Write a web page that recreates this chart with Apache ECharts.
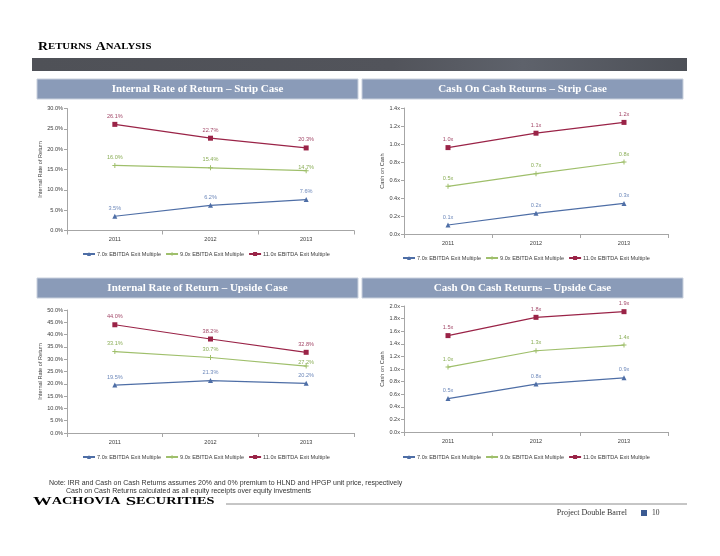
<!DOCTYPE html>
<html><head><meta charset="utf-8">
<script src="https://cdn.jsdelivr.net/npm/echarts@6/dist/echarts.min.js"></script>
<style>html,body{margin:0;padding:0;background:#fff}#c{width:720px;height:556px}</style>
</head><body><div id="c"></div><script>
// ---- data ----
const years = ['2011', '2012', '2013'];
const seriesNames = ['7.0x EBITDA Exit Multiple', '9.0x EBITDA Exit Multiple', '11.0x EBITDA Exit Multiple'];
const irrStrip7 = [3.5, 6.2, 7.6];
const irrStrip9 = [16.0, 15.4, 14.7];
const irrStrip11 = [26.1, 22.7, 20.3];
const cocStrip7 = [0.10, 0.23, 0.34];
const cocStrip9 = [0.53, 0.67, 0.80];
const cocStrip11 = [0.96, 1.12, 1.24];
const irrUp7 = [19.5, 21.3, 20.2];
const irrUp9 = [33.1, 30.7, 27.2];
const irrUp11 = [44.0, 38.2, 32.8];
const cocUp7 = [0.53, 0.76, 0.86];
const cocUp9 = [1.03, 1.29, 1.38];
const cocUp11 = [1.53, 1.82, 1.91];
const chartTitles = ['Internal Rate of Return \u2013 Strip Case', 'Cash On Cash Returns \u2013 Strip Case',
  'Internal Rate of Return \u2013 Upside Case', 'Cash On Cash Returns \u2013 Upside Case'];
const axisNames = ['Internal Rate of Return', 'Cash on Cash', 'Internal Rate of Return', 'Cash on Cash'];
const noteLines = ['Note: IRR and Cash on Cash Returns assumes 20% and 0% premium to HLND and HPGP unit price, respectively',
  'Cash on Cash Returns calculated as all equity receipts over equity investments'];

// ---- style ----
const lineColors = ['#4e6ea6', '#9fbf6b', '#9a2347'];
const labelColors = ['#6d88ba', '#8bae58', '#a44a6a'];
const plusPath = 'path://M2,0h1v2h2v1h-2v2h-1v-2h-2v-1h2z';
const symbols = ['triangle', plusPath, 'rect'];
const sans = 'Arial, "Liberation Sans", sans-serif';
const serif = '"Liberation Serif", "DejaVu Serif", serif';
const fs = 5.6;

const grids = [
  {left: 67, top: 108.5, width: 287, height: 122},
  {left: 404, top: 108, width: 264, height: 126},
  {left: 67, top: 310, width: 287, height: 123},
  {left: 404, top: 306, width: 264, height: 126}
];
const yCfg = [
  {max: 30, interval: 5, fmt: v => v.toFixed(1) + '%', gap: 24},
  {max: 1.4, interval: 0.2, fmt: v => v.toFixed(1) + 'x', gap: 16},
  {max: 50, interval: 5, fmt: v => v.toFixed(1) + '%', gap: 24},
  {max: 2.0, interval: 0.2, fmt: v => v.toFixed(1) + 'x', gap: 16}
];
const dataSets = [
  [irrStrip7, irrStrip9, irrStrip11],
  [cocStrip7, cocStrip9, cocStrip11],
  [irrUp7, irrUp9, irrUp11],
  [cocUp7, cocUp9, cocUp11]
];
// label nudges (chart, series, point) where the reference label sits close to the marker
const labelNudge = {'0-1-2': [0, 5], '2-1-2': [0, 4]};
const legendPos = [{left: 82, top: 251}, {left: 402, top: 255}, {left: 82, top: 454}, {left: 402, top: 454}];
const headers = [{x: 37, y: 79, w: 321}, {x: 362, y: 79, w: 321}, {x: 37, y: 278, w: 321}, {x: 362, y: 278, w: 321}];

const axisLineStyle = {color: '#a6a6a6', width: 1};
const xAxes = [], yAxes = [], series = [], legends = [], graphics = [];
grids.forEach((g, i) => {
  xAxes.push({
    type: 'category', gridIndex: i, data: years, boundaryGap: true,
    axisLine: {lineStyle: axisLineStyle},
    axisTick: {show: true, length: 4, lineStyle: axisLineStyle},
    axisLabel: {color: '#404040', fontSize: fs, fontFamily: sans, margin: 6}
  });
  yAxes.push({
    type: 'value', gridIndex: i, min: 0, max: yCfg[i].max, interval: yCfg[i].interval,
    name: axisNames[i], nameLocation: 'middle', nameGap: yCfg[i].gap, nameRotate: 90,
    nameTextStyle: {color: '#404040', fontSize: fs, fontFamily: sans},
    axisLine: {show: true, lineStyle: axisLineStyle},
    axisTick: {show: true, length: 3, lineStyle: axisLineStyle},
    splitLine: {show: false},
    axisLabel: {color: '#404040', fontSize: fs, fontFamily: sans, margin: 4, formatter: yCfg[i].fmt}
  });
  dataSets[i].forEach((d, k) => {
    series.push({
      type: 'line', name: seriesNames[k], xAxisIndex: i, yAxisIndex: i,
      data: d.map((v, j) => {
        const nudge = labelNudge[i + '-' + k + '-' + j];
        return nudge ? {value: v, label: {offset: nudge}} : v;
      }),
      symbol: symbols[k], symbolSize: 5, showAllSymbol: true,
      lineStyle: {color: lineColors[k], width: 1.2},
      itemStyle: {color: lineColors[k]},
      label: {show: true, position: 'top', distance: 2.5, color: labelColors[k], fontSize: fs, fontFamily: sans,
        formatter: p => yCfg[i].fmt(p.value)},
      animation: false
    });
  });
  legends.push({
    left: legendPos[i].left, top: legendPos[i].top, data: seriesNames, itemWidth: 12, itemHeight: 5, itemGap: 4,
    padding: 0, selectedMode: false,
    textStyle: {color: '#404040', fontSize: fs, fontFamily: sans, padding: [0, 0, 0, -3]}
  });
  const h = headers[i];
  graphics.push({type: 'rect', shape: {x: h.x, y: h.y, width: h.w, height: 20},
    style: {fill: '#8a9bb8', stroke: '#c8d0dd', lineWidth: 1}});
  graphics.push({type: 'text', x: h.x + h.w / 2, y: h.y + 10,
    style: {text: chartTitles[i], fill: '#ffffff', font: 'bold 11px ' + serif, textAlign: 'center', textVerticalAlign: 'middle'}});
});

// page header
graphics.push({type: 'text', x: 38, y: 47, scaleX: 1.2, style: {
  text: '{b|R}{s|ETURNS} {b|A}{s|NALYSIS}', textVerticalAlign: 'middle',
  rich: {b: {fontSize: 11.5, fontFamily: serif, fontWeight: 'bold', color: '#333333'},
         s: {fontSize: 9, fontFamily: serif, fontWeight: 'bold', color: '#333333'}}}});
graphics.push({type: 'rect', shape: {x: 32, y: 58, width: 655, height: 13},
  style: {fill: new echarts.graphic.LinearGradient(0, 0, 1, 0, [
    {offset: 0, color: '#4f5157'}, {offset: 0.55, color: '#52545b'}, {offset: 0.75, color: '#5e626b'}, {offset: 1, color: '#4d5057'}])}});
// footer
graphics.push({type: 'text', x: 49, y: 483, style: {text: noteLines[0], font: '7px ' + sans, fill: '#333333', textVerticalAlign: 'middle'}});
graphics.push({type: 'text', x: 66, y: 491.5, style: {text: noteLines[1], font: '7px ' + sans, fill: '#333333', textVerticalAlign: 'middle'}});
graphics.push({type: 'text', x: 33, y: 502, scaleX: 1.5, style: {
  text: '{b|W}{s|ACHOVIA} {b|S}{s|ECURITIES}', textVerticalAlign: 'middle',
  rich: {b: {fontSize: 12.5, fontFamily: serif, fontWeight: 'bold', color: '#1a1a1a'},
         s: {fontSize: 9.5, fontFamily: serif, fontWeight: 'bold', color: '#1a1a1a'}}}});
graphics.push({type: 'line', shape: {x1: 226, y1: 504, x2: 687, y2: 504}, style: {stroke: '#8c8c8c', lineWidth: 1}});
graphics.push({type: 'text', x: 627, y: 513, style: {text: 'Project Double Barrel', font: '8px ' + serif, fill: '#333333', textAlign: 'right', textVerticalAlign: 'middle'}});
graphics.push({type: 'rect', shape: {x: 641, y: 510, width: 6, height: 6}, style: {fill: '#3b5a92'}});
graphics.push({type: 'text', x: 652, y: 513, style: {text: '10', font: '7.5px ' + serif, fill: '#333333', textVerticalAlign: 'middle'}});

const chart = echarts.init(document.getElementById('c'), null, {renderer: 'canvas'});
chart.setOption({
  animation: false,
  backgroundColor: '#ffffff',
  grid: grids,
  xAxis: xAxes,
  yAxis: yAxes,
  legend: legends,
  series: series,
  graphic: graphics
});
</script></body></html>
